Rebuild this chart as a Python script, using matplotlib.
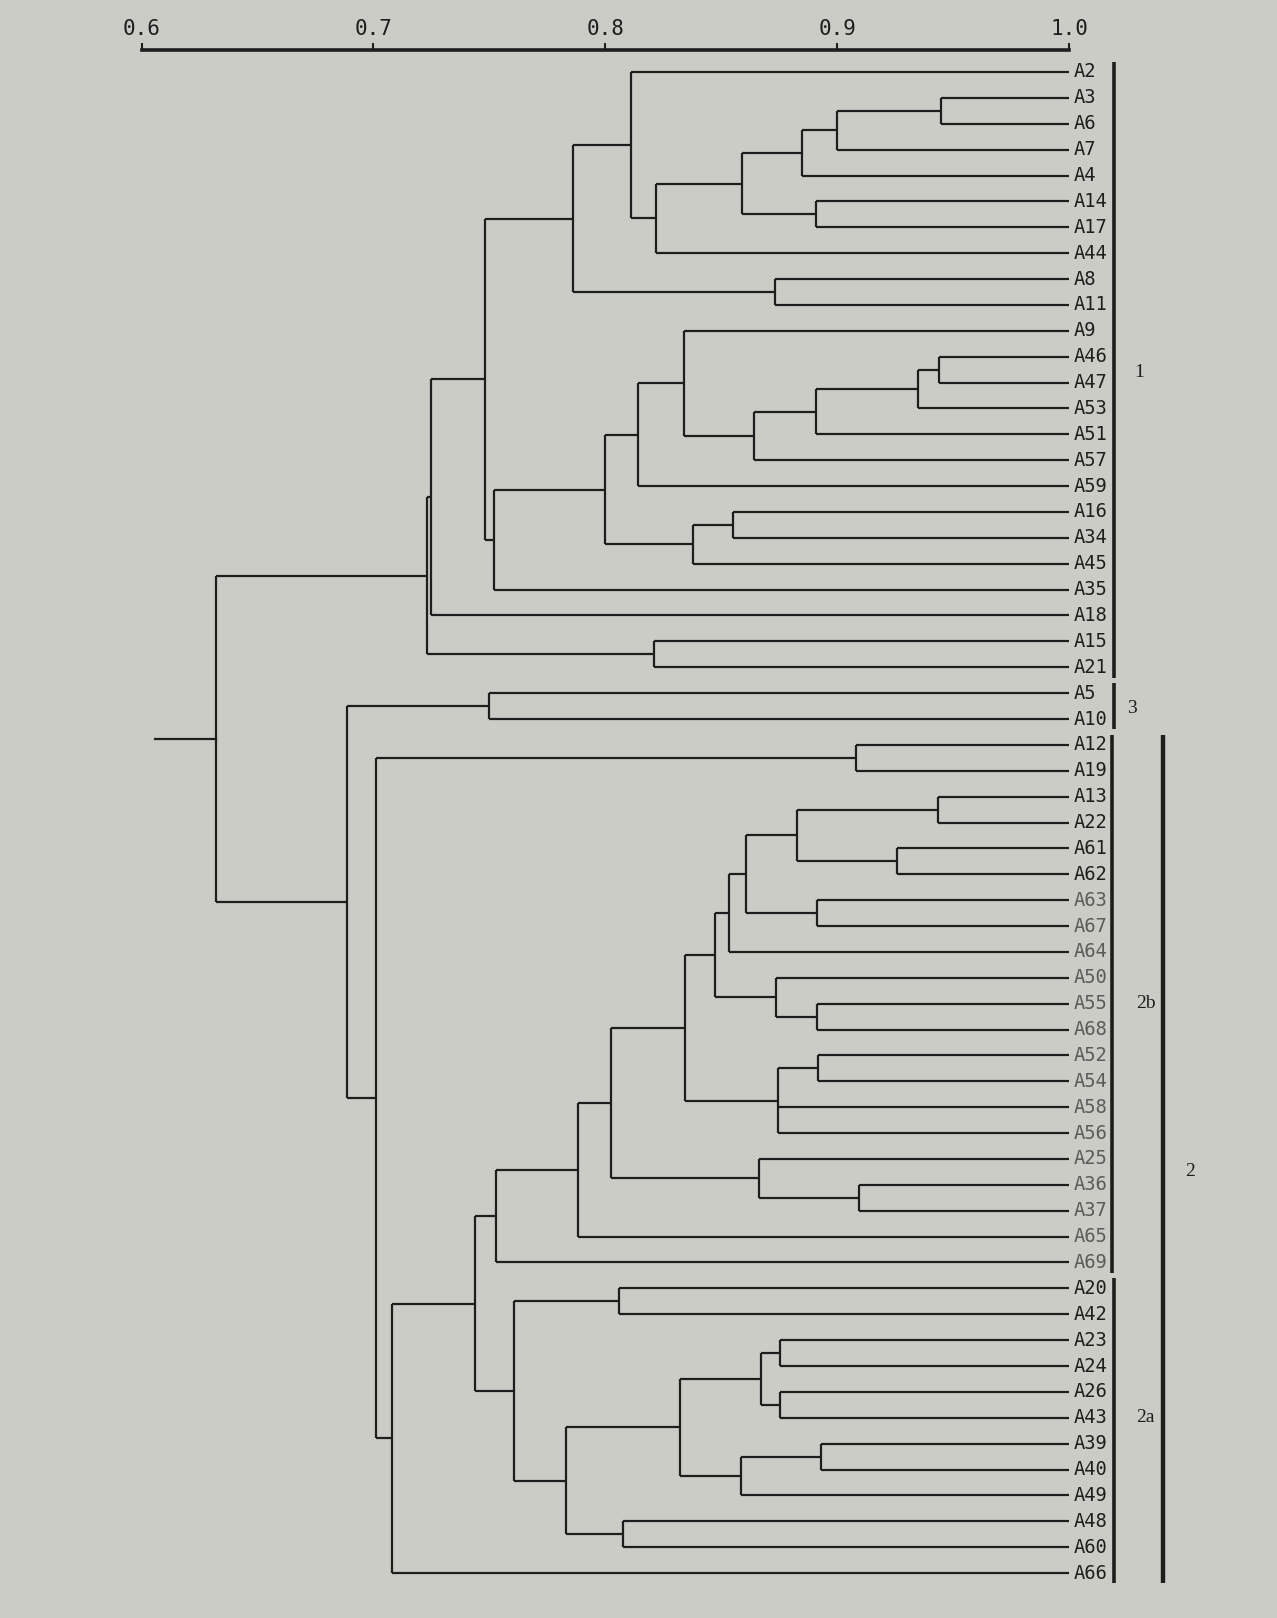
import matplotlib
matplotlib.use("Agg")
import matplotlib.pyplot as plt

# ---------------- data ----------------
leaves = ["A2", "A3", "A6", "A7", "A4", "A14", "A17", "A44", "A8", "A11",
          "A9", "A46", "A47", "A53", "A51", "A57", "A59", "A16", "A34", "A45",
          "A35", "A18", "A15", "A21",
          "A5", "A10",
          "A12", "A19", "A13", "A22", "A61", "A62", "A63", "A67", "A64", "A50",
          "A55", "A68", "A52", "A54", "A58", "A56", "A25", "A36", "A37", "A65",
          "A69",
          "A20", "A42", "A23", "A24", "A26", "A43", "A39", "A40", "A49", "A48",
          "A60", "A66"]

node_names = ["n%d" % i for i in range(1, 58)]
node_children = [
    ["A3", "A6"], ["n1", "A7"], ["n2", "A4"], ["A14", "A17"], ["n3", "n4"],
    ["n5", "A44"], ["A2", "n6"], ["A8", "A11"], ["n7", "n8"], ["A46", "A47"],
    ["n10", "A53"], ["n11", "A51"], ["n12", "A57"], ["A9", "n13"], ["n14", "A59"],
    ["A16", "A34"], ["n16", "A45"], ["n15", "n17"], ["n18", "A35"], ["n9", "n19"],
    ["n20", "A18"], ["A15", "A21"], ["n21", "n22"],
    ["A5", "A10"],
    ["A12", "A19"], ["A13", "A22"], ["A61", "A62"], ["n26", "n27"], ["A63", "A67"],
    ["n28", "n29"], ["n30", "A64"], ["A55", "A68"], ["A50", "n32"], ["n31", "n33"],
    ["A52", "A54"], ["n35", "A58", "A56"], ["n34", "n36"], ["A36", "A37"],
    ["A25", "n38"], ["n37", "n39"], ["n40", "A65"], ["n41", "A69"],
    ["A20", "A42"], ["A23", "A24"], ["A26", "A43"], ["n44", "n45"], ["A39", "A40"],
    ["n47", "A49"], ["n46", "n48"], ["A48", "A60"], ["n49", "n50"], ["n43", "n51"],
    ["n42", "n52"], ["n53", "A66"], ["n25", "n54"], ["n24", "n55"],
    ["n23", "n56"],
]
node_sim = [
    0.945, 0.900, 0.885, 0.891, 0.859,
    0.822, 0.811, 0.873, 0.786, 0.944,
    0.935, 0.891, 0.864, 0.834, 0.814,
    0.855, 0.838, 0.800, 0.752, 0.748,
    0.725, 0.821, 0.723,
    0.750,
    0.908, 0.9435, 0.926, 0.8825, 0.8915,
    0.8606, 0.8534, 0.8915, 0.8738, 0.8475,
    0.8917, 0.8744, 0.8342, 0.9095,
    0.8663, 0.8025, 0.7883, 0.7529,
    0.8059, 0.8752, 0.8752, 0.8670, 0.8932,
    0.8587, 0.8324, 0.8075, 0.7831, 0.7608,
    0.7438, 0.708, 0.701, 0.6886,
    0.632,
]
root_stub = 0.606

xticks = [0.6, 0.7, 0.8, 0.9, 1.0]
xtick_labels = ["0.6", "0.7", "0.8", "0.9", "1.0"]

groups = ["1", "3", "2b", "2a", "2"]
group_first = ["A2", "A5", "A12", "A20", "A12"]
group_last = ["A21", "A10", "A69", "A66", "A66"]

# ---------------- drawing ----------------
bg = "#cbccc6"
ink = "#1e1e1e"
fig = plt.figure(figsize=(12.77, 16.18), dpi=100, facecolor=bg)
ax = fig.add_axes([141.5 / 1277, 1 - 1586 / 1618, (1069 - 141.5) / 1277, 1536 / 1618])
ax.set_facecolor(bg)
ax.set_xlim(0.6, 1.0)
ax.set_ylim(58.5, -0.85)

ypos = {name: i for i, name in enumerate(leaves)}
xpos = {name: 1.0 for name in leaves}
for name, ch, s in zip(node_names, node_children, node_sim):
    ys = [ypos[c] for c in ch]
    ypos[name] = (ys[0] + ys[-1]) / 2.0
    xpos[name] = s

lw = 1.6
for name, ch, s in zip(node_names, node_children, node_sim):
    ys = [ypos[c] for c in ch]
    ax.plot([s, s], [min(ys), max(ys)], color=ink, lw=lw, solid_capstyle="butt", clip_on=False)
    for c in ch:
        ax.plot([s, xpos[c]], [ypos[c], ypos[c]], color=ink, lw=lw, solid_capstyle="butt", clip_on=False)

root = node_names[-1]
ax.plot([root_stub, xpos[root]], [ypos[root], ypos[root]], color=ink, lw=lw, clip_on=False)

faded = set(["A63", "A67", "A64", "A50", "A55", "A68", "A52", "A54", "A58",
             "A56", "A25", "A36", "A37", "A65", "A69"])
for name in leaves:
    ax.annotate(name, xy=(1.0, ypos[name]), xytext=(3, 0), textcoords="offset points",
                ha="left", va="center", fontsize=13.5, family="DejaVu Sans Mono",
                color="#5a5a5a" if name in faded else ink, annotation_clip=False)

# top scale
for sp in ["left", "right", "bottom"]:
    ax.spines[sp].set_visible(False)
ax.spines["top"].set_linewidth(2.6)
ax.spines["top"].set_color(ink)
ax.xaxis.tick_top()
ax.set_xticks(xticks)
ax.set_xticklabels(xtick_labels, family="DejaVu Sans Mono", fontsize=15, color=ink)
ax.tick_params(axis="x", direction="out", length=5, width=1.5, pad=3, color=ink)
ax.set_yticks([])

# group brackets
bracket_x = [1.0194, 1.0194, 1.0186, 1.0194, 1.0406]
label_x = [1.0280, 1.0250, 1.0290, 1.0290, 1.0500]
label_y = [11.6, 24.6, 36.0, 52.0, 42.5]
pad = 0.4
for g, f, l, bx, lx, ly in zip(groups, group_first, group_last, bracket_x, label_x, label_y):
    y0 = ypos[f] - pad
    y1 = ypos[l] + pad
    ax.plot([bx, bx], [y0, y1], color=ink, lw=2.6 if g != "2" else 3.2, clip_on=False,
            solid_capstyle="butt")
    ax.text(lx, ly, g, ha="left", va="center", fontsize=14, family="Liberation Serif",
            color=ink, clip_on=False)

fig.savefig("out.png", dpi=100, facecolor=bg)
